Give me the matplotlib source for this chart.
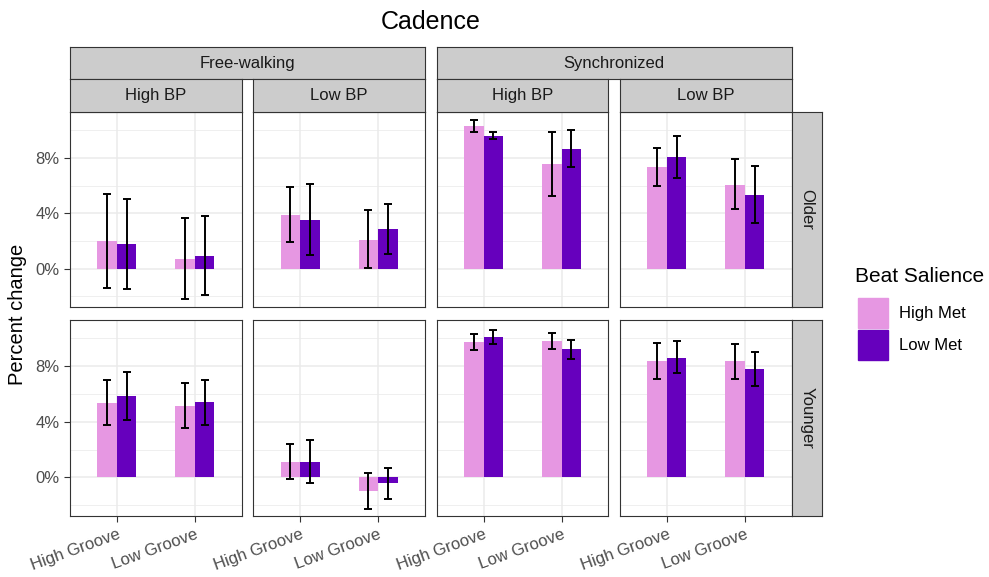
import numpy as np
import matplotlib
matplotlib.use("Agg")
import matplotlib.pyplot as plt
from matplotlib.patches import Rectangle
from matplotlib.ticker import FuncFormatter, MultipleLocator

plt.rcParams['font.family'] = ['Liberation Sans', 'DejaVu Sans']

# --- DATA (percent change) ---
conditions = ["Free-walking", "Synchronized"]
bp_levels = ["High BP", "Low BP"]
ages = ["Older", "Younger"]
grooves = ["High Groove", "Low Groove"]
met_labels = ["High Met", "Low Met"]
met_colors = ["#E697E2", "#6600BD"]

# order of 8 values: (FW High BP, FW Low BP, Sync High BP, Sync Low BP) x (High Groove, Low Groove)
older_hm_mean = [2.0, 0.7, 3.9, 2.1, 10.3, 7.55, 7.37, 6.07]
older_hm_lo = [-1.4, -2.22, 1.93, 0.05, 9.88, 5.22, 6.01, 4.3]
older_hm_hi = [5.43, 3.67, 5.9, 4.23, 10.75, 9.9, 8.75, 7.95]
older_lm_mean = [1.79, 0.92, 3.5, 2.83, 9.62, 8.67, 8.09, 5.36]
older_lm_lo = [-1.47, -1.93, 0.97, 1.07, 9.35, 7.35, 6.59, 3.31]
older_lm_hi = [5.07, 3.84, 6.09, 4.64, 9.88, 10.0, 9.59, 7.44]

younger_hm_mean = [5.36, 5.14, 1.14, -0.97, 9.77, 9.85, 8.36, 8.36]
younger_hm_lo = [3.74, 3.52, -0.12, -2.3, 9.16, 9.24, 7.08, 7.1]
younger_hm_hi = [7.03, 6.79, 2.4, 0.34, 10.35, 10.4, 9.7, 9.63]
younger_lm_mean = [5.87, 5.43, 1.14, -0.44, 10.09, 9.21, 8.63, 7.78]
younger_lm_lo = [4.15, 3.76, -0.39, -1.55, 9.58, 8.51, 7.49, 6.57]
younger_lm_hi = [7.59, 7.01, 2.72, 0.65, 10.6, 9.87, 9.8, 9.02]

series = {
    "Older": [(older_hm_mean, older_hm_lo, older_hm_hi),
              (older_lm_mean, older_lm_lo, older_lm_hi)],
    "Younger": [(younger_hm_mean, younger_hm_lo, younger_hm_hi),
                (younger_lm_mean, younger_lm_lo, younger_lm_hi)],
}

# --- LAYOUT (pixels) ---
W, H = 989, 577
col_x = [70, 253.3, 436.7, 620]
col_w = 171.7
row_y = [(112, 307), (320, 516)]
strip_color = "#CCCCCC"
edge = "#333333"
text_grey = "#4D4D4D"


def fx(x):
    return x / W


def fy(y):
    return 1 - y / H


fig = plt.figure(figsize=(W / 100, H / 100), dpi=100)

bar_w = 0.25
for r, age in enumerate(ages):
    top, bot = row_y[r]
    for c in range(4):
        ax = fig.add_axes([fx(col_x[c]), fy(bot), col_w / W, (bot - top) / H])
        x = np.arange(1, 3)
        for m in range(2):
            mean, lo, hi = series[age][m]
            vals = np.array(mean[2 * c:2 * c + 2])
            los = np.array(lo[2 * c:2 * c + 2])
            his = np.array(hi[2 * c:2 * c + 2])
            xpos = x + (m - 0.5) * bar_w
            ax.bar(xpos, vals, width=bar_w, color=met_colors[m], zorder=2)
            ax.errorbar(xpos, vals, yerr=[vals - los, his - vals], fmt='none',
                        ecolor='black', elinewidth=1.4, capsize=2.6, capthick=1.4, zorder=3)
        ax.set_xlim(0.4, 2.6)
        ax.set_ylim(-2.78, 11.33)
        ax.yaxis.set_major_locator(MultipleLocator(4))
        ax.yaxis.set_minor_locator(MultipleLocator(2))
        ax.set_xticks(x)
        ax.grid(True, which='major', color='#EBEBEB', lw=1.1, zorder=0)
        ax.grid(True, which='minor', axis='y', color='#EBEBEB', lw=0.55, zorder=0)
        ax.set_axisbelow(True)
        for s in ax.spines.values():
            s.set_color(edge)
            s.set_linewidth(0.8)
        ax.tick_params(which='minor', length=0)
        ax.tick_params(which='major', length=4, color=edge, width=0.8,
                       labelsize=12, labelcolor=text_grey)
        if c == 0:
            ax.yaxis.set_major_formatter(FuncFormatter(lambda v, p: f"{v:.0f}%"))
        else:
            ax.tick_params(axis='y', left=False, labelleft=False)
        if r == 1:
            ax.set_xticklabels(grooves, rotation=20, ha='right', va='top',
                               rotation_mode='anchor')
        else:
            ax.tick_params(axis='x', bottom=False, labelbottom=False)


def strip(x0, y0, x1, y1, label, rot=0):
    sax = fig.add_axes([fx(x0), fy(y1), (x1 - x0) / W, (y1 - y0) / H])
    sax.set_facecolor(strip_color)
    sax.set_xticks([])
    sax.set_yticks([])
    for s in sax.spines.values():
        s.set_color(edge)
        s.set_linewidth(0.8)
    sax.text(0.5, 0.5, label, ha='center', va='center', rotation=rot,
             fontsize=12, color='#1A1A1A', transform=sax.transAxes)


# top strips
for i, cond in enumerate(conditions):
    strip(col_x[2 * i], 47.3, col_x[2 * i + 1] + col_w, 79, cond)
for c in range(4):
    strip(col_x[c], 79, col_x[c] + col_w, 111.5, bp_levels[c % 2])
# right strips
for r, age in enumerate(ages):
    strip(792, row_y[r][0], 822, row_y[r][1], age, rot=-90)

fig.text(fx(431), fy(22), "Cadence", ha='center', va='center', fontsize=18)
fig.text(fx(18), fy(314), "Percent change", ha='center', va='center',
         rotation=90, fontsize=14.5)

# legend
fig.text(fx(855), fy(277), "Beat Salience", ha='left', va='center', fontsize=15)
for m in range(2):
    y0 = 297.7 + m * 32.5
    fig.add_artist(Rectangle((fx(858), fy(y0 + 30)), 29.5 / W, 30 / H,
                             transform=fig.transFigure, color=met_colors[m]))
    fig.text(fx(899), fy(y0 + 15.5), met_labels[m], ha='left', va='center',
             fontsize=12, color='black')

fig.savefig("out.png", dpi=100)
